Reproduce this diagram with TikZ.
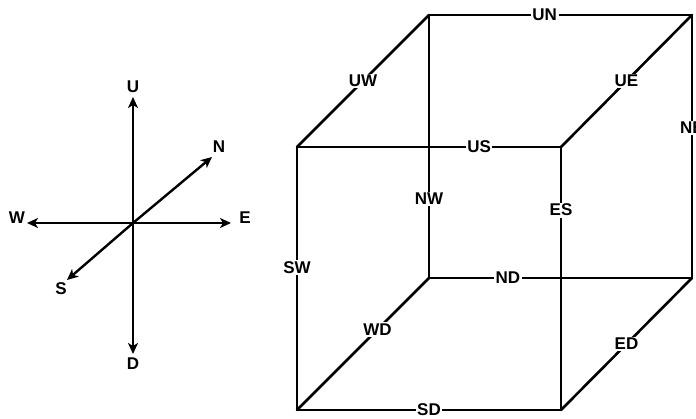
\documentclass[tikz,border=0pt]{standalone}
\usepackage{fontspec}
\setmainfont{Liberation Sans}
\usetikzlibrary{arrows.meta}
\begin{document}
\begin{tikzpicture}[x=1pt,y=-1pt,
  edge/.style={line width=2.6pt,line cap=round,line join=round},
  arr/.style={line width=2.4pt,-{Stealth[length=11pt,width=10pt,inset=3pt]}},
  lbl/.style={font=\fontsize{17}{19}\selectfont\bfseries,inner sep=1pt},
  elbl/.style={lbl,fill=white,inner sep=1.5pt}]
\useasboundingbox (0,0) rectangle (696,419);
\clip (0,0) rectangle (696,419);
% compass
\coordinate (c) at (133,223);
\coordinate (tU) at (133,97);
\coordinate (tD) at (133,354);
\coordinate (tW) at (27,223);
\coordinate (tE) at (231,223);
\coordinate (tN) at (212,157);
\coordinate (tS) at (67,280);
\node[lbl] (U) at (133,87) {U};
\node[lbl] (D) at (133,364) {D};
\node[lbl] (W) at (17,218) {W};
\node[lbl] (E) at (245,218) {E};
\node[lbl] (N) at (219,147) {N};
\node[lbl] (S) at (61,289) {S};
\draw[arr] (c) -- (tU);
\draw[arr] (c) -- (tD);
\draw[arr] (c) -- (tW);
\draw[arr] (c) -- (tE);
\draw[arr] (c) -- (tN);
\draw[arr] (c) -- (tS);
% cube corners
\coordinate (fUW) at (297,147);
\coordinate (fUE) at (561,147);
\coordinate (fDW) at (297,410);
\coordinate (fDE) at (561,410);
\coordinate (bUW) at (429,15);
\coordinate (bUE) at (692,15);
\coordinate (bDW) at (429,278);
\coordinate (bDE) at (692,278);
% back edges
\draw[edge] (bUW) -- node[elbl,pos=0.44] (UN) {UN} (bUE);
\draw[edge] (bUE) -- node[elbl,pos=0.43] (NE) {NE} (bDE);
\draw[edge] (bUW) -- node[elbl,pos=0.70] (NW) {NW} (bDW);
\draw[edge] (bDW) -- node[elbl,pos=0.30] (ND) {ND} (bDE);
% side edges
\draw[edge] (fUW) -- node[elbl,pos=0.5] (UW) {UW} (bUW);
\draw[edge] (fUE) -- node[elbl,pos=0.5] (UE) {UE} (bUE);
\draw[edge] (fDW) -- node[elbl,pos=0.61] (WD) {WD} (bDW);
\draw[edge] (fDE) -- node[elbl,pos=0.5] (ED) {ED} (bDE);
% front edges
\draw[edge] (fUW) -- node[elbl,pos=0.69] (US) {US} (fUE);
\draw[edge] (fUE) -- node[elbl,pos=0.24] (ES) {ES} (fDE);
\draw[edge] (fUW) -- node[elbl,pos=0.46] (SW) {SW} (fDW);
\draw[edge] (fDW) -- node[elbl,pos=0.50] (SD) {SD} (fDE);
\end{tikzpicture}
\end{document}
